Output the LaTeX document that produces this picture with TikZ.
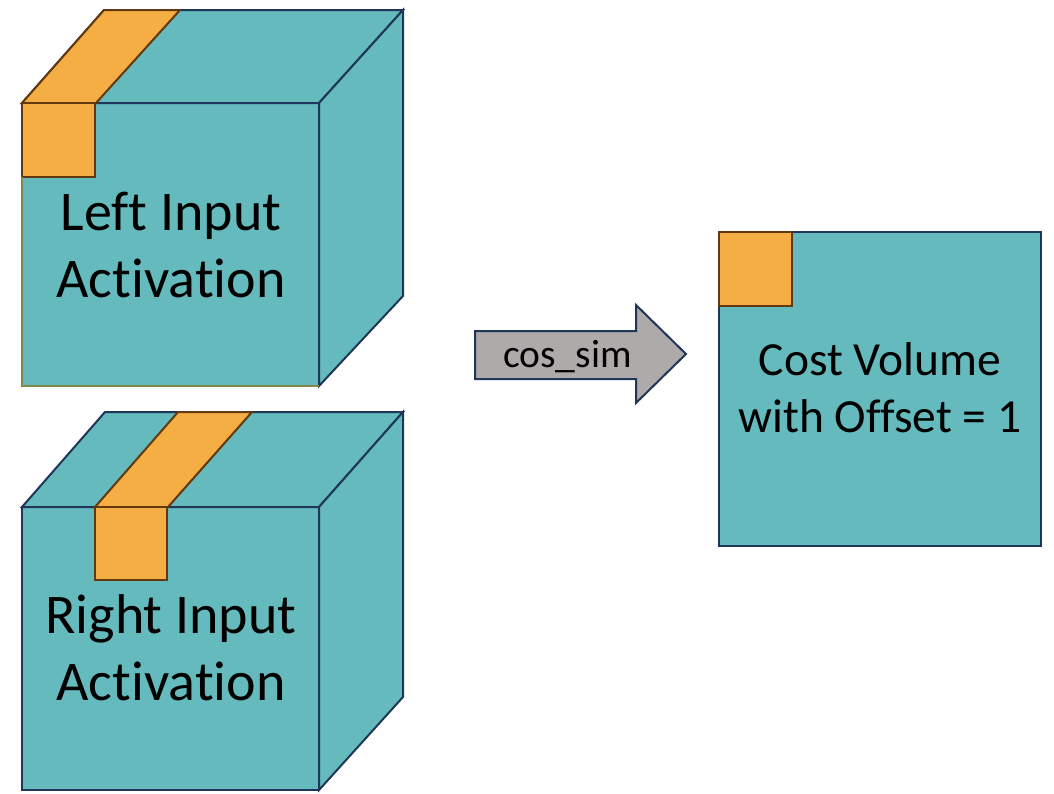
\documentclass[tikz,border=0pt]{standalone}
\usepackage{fontspec}
\setmainfont{Carlito}[Ligatures={NoCommon}]
\definecolor{cubeteal}{RGB}{100,186,188}
\definecolor{patchorange}{RGB}{244,174,68}
\definecolor{patchbrown}{RGB}{99,56,14}
\definecolor{edgeblue}{RGB}{31,54,89}
\definecolor{edgeolive}{RGB}{127,138,74}
\definecolor{arrowgray}{RGB}{174,170,170}
\tikzset{
  face/.style={fill=cubeteal, draw=edgeblue, line width=2pt, line join=miter},
  facefill/.style={fill=cubeteal},
  patch/.style={fill=patchorange, draw=patchbrown, line width=2pt, line join=miter},
  oliveedge/.style={draw=edgeolive, line width=2pt},
  bigtext/.style={align=center, inner sep=0pt, font=\fontsize{56}{67}\selectfont},
  midtext/.style={align=center, inner sep=0pt, font=\fontsize{47.5}{57}\selectfont},
  arrowtext/.style={inner sep=0pt, font=\fontsize{39.5}{47}\selectfont},
  bigarrow/.style={fill=arrowgray, draw=edgeblue, line width=2pt, line join=miter}
}
\begin{document}
\begin{tikzpicture}[x=1pt,y=-1pt]
\useasboundingbox (0,0) rectangle (1054,793);

% ---- top cube (left input) ----
\fill[facefill] (22,103) rectangle (319,386);
\draw[face] (22,103) -- (104,10) -- (403,10) -- (319,103) -- cycle;
\draw[face] (319,103) -- (403,10) -- (403,296) -- (319,386) -- cycle;
\draw[patch] (22,103) -- (104,10) -- (180,10) -- (96,103) -- cycle;
\draw[patch] (22,103) rectangle (95,177);
\draw[oliveedge] (22,177) -- (22,386) -- (319,386);
\node[bigtext] (lefttext) at (171,245) {Left Input\\Activation};

% ---- bottom cube (right input) ----
\draw[face] (22,507) rectangle (319,790);
\draw[face] (22,507) -- (105,412) -- (403,412) -- (319,507) -- cycle;
\draw[face] (319,507) -- (403,412) -- (403,697) -- (319,790) -- cycle;
\draw[patch] (95,507) -- (178,412) -- (252,412) -- (168,507) -- cycle;
\draw[patch] (95,507) rectangle (167,580);
\node[bigtext] (righttext) at (171,648) {Right Input\\Activation};

% ---- arrow ----
\draw[bigarrow] (475,331) -- (636,331) -- (636,305) -- (686,354) -- (636,403) -- (636,379) -- (475,379) -- cycle;
\node[arrowtext, anchor=base] (arrowlabel) at (567.5,367) {cos\_sim};

% ---- cost volume ----
\draw[face] (719,232) rectangle (1041,546);
\draw[patch] (719,232) rectangle (792,306);
\node[midtext] (costtext) at (880,388) {Cost Volume\\with Offset = 1};
\end{tikzpicture}
\end{document}
